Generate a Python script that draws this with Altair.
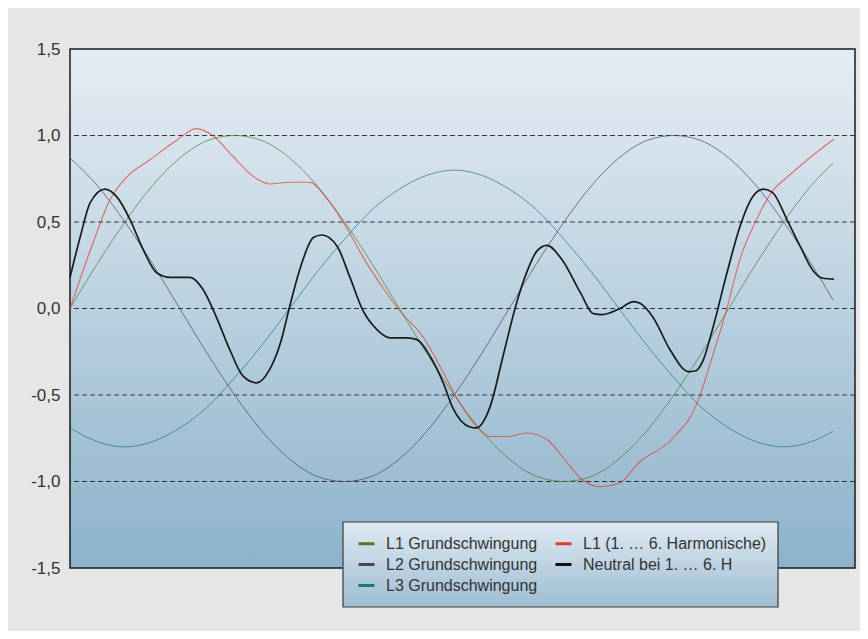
import altair as alt
import pandas as pd

# ---- data (angle in degrees, value in p.u.) ----
theta_fund = [0, 15, 30, 45, 60, 75, 90, 105, 120, 135, 150, 165, 180, 195, 210,
              225, 240, 255, 270, 285, 300, 315, 330, 345, 360, 375, 390, 405, 417]
l1_fund = [0.0, 0.26, 0.50, 0.71, 0.87, 0.97, 1.0, 0.97, 0.87, 0.71, 0.50, 0.26, 0.0, -0.26, -0.50,
           -0.71, -0.87, -0.97, -1.0, -0.97, -0.87, -0.71, -0.50, -0.26, 0.0, 0.26, 0.50, 0.71, 0.84]
l2_fund = [0.87, 0.71, 0.50, 0.26, 0.0, -0.26, -0.50, -0.71, -0.87, -0.97, -1.0, -0.97, -0.87, -0.71, -0.50,
           -0.26, 0.0, 0.26, 0.50, 0.71, 0.87, 0.97, 1.0, 0.97, 0.87, 0.71, 0.50, 0.26, 0.05]
l3_fund = [-0.69, -0.77, -0.80, -0.77, -0.69, -0.57, -0.40, -0.21, 0.0, 0.21, 0.40, 0.57, 0.69, 0.77, 0.80,
           0.77, 0.69, 0.57, 0.40, 0.21, 0.0, -0.21, -0.40, -0.57, -0.69, -0.77, -0.80, -0.77, -0.71]

theta_l1h = [0, 12.6, 21.9, 31, 43.7, 58, 69, 78, 89, 102, 109, 120, 131, 140, 151, 160, 171, 180,
             193, 204, 211, 222, 229.5, 239, 250, 261, 271.6, 280, 289.6, 300, 311, 329.5, 342.6,
             351, 359, 366, 375, 384, 392, 403, 417.5]
l1_harm = [0.0, 0.38, 0.63, 0.76, 0.86, 0.97, 1.04, 1.0, 0.88, 0.75, 0.72, 0.73, 0.73, 0.64, 0.47, 0.30, 0.12, -0.01,
           -0.165, -0.37, -0.51, -0.68, -0.74, -0.74, -0.72, -0.76, -0.89, -0.99, -1.03, -1.01, -0.89, -0.75, -0.55,
           -0.28, 0.0, 0.28, 0.51, 0.68, 0.76, 0.86, 0.98]

theta_n = [0, 5.5, 11, 19, 25.6, 33, 40, 47.5, 54.6, 65.6, 72.7, 80, 87.4, 94.5, 102, 109, 115, 120, 126,
           133, 137.7, 146, 153, 160, 168, 175, 184, 189.6, 197, 204, 209, 218.6, 222, 229.5, 237, 244,
           250, 255, 260.6, 269, 279, 286, 291, 300.5, 308, 311.5, 318.6, 328, 338, 342, 346, 351, 359, 366,
           373, 379, 384, 392, 399, 406, 411.5, 417.5]
neutral = [0.18, 0.41, 0.61, 0.69, 0.645, 0.51, 0.34, 0.205, 0.18, 0.18, 0.11, -0.05, -0.24, -0.39, -0.43,
           -0.355, -0.20, 0.01, 0.24, 0.41, 0.425, 0.36, 0.18, -0.01, -0.125, -0.17, -0.17, -0.18, -0.28,
           -0.43, -0.57, -0.685, -0.69, -0.57, -0.26, 0.03, 0.22, 0.33, 0.365, 0.28, 0.09, -0.03, -0.035,
           0.0, 0.04, 0.03, -0.05, -0.24, -0.365, -0.36, -0.30, -0.125, 0.205, 0.47, 0.645, 0.69, 0.67, 0.51,
           0.36, 0.22, 0.175, 0.17]

grid_values = [-1.0, -0.5, 0.0, 0.5, 1.0]
y_ticks = [-1.5, -1.0, -0.5, 0.0, 0.5, 1.0, 1.5]

S_L1 = "L1 Grundschwingung"
S_L2 = "L2 Grundschwingung"
S_L3 = "L3 Grundschwingung"
S_H = "L1 (1. … 6. Harmonische)"
S_N = "Neutral bei 1. … 6. H"

def frame(name, th, vals):
    return pd.DataFrame({"theta": th, "value": vals, "series": name})

df_fund = pd.concat([frame(S_L3, theta_fund, l3_fund), frame(S_L2, theta_fund, l2_fund),
                     frame(S_L1, theta_fund, l1_fund)], ignore_index=True)
df_harm = frame(S_H, theta_l1h, l1_harm)
df_neu = frame(S_N, theta_n, neutral)

X_MAX = 429
W, H = 785, 519

legend_order = [S_L1, S_L2, S_L3, S_H, S_N]
legend_colors = ["#4c7a2c", "#52405f", "#1f7584", "#e53a2a", "#111111"]

yaxis = alt.Axis(values=y_ticks, grid=False, domain=False, ticks=False,
                 labelExpr="(datum.value < 0 ? '-' : '') + replace(format(abs(datum.value), '.1f'), '.', ',')",
                 labelFontSize=17, labelColor="#333333", labelPadding=10,
                 labelFont="Liberation Sans", title=None)
yscale = alt.Scale(domain=[-1.5, 1.5], nice=False, zero=False)
xscale = alt.Scale(domain=[0, X_MAX], nice=False, zero=False)
cscale = alt.Scale(domain=legend_order, range=legend_colors)
legend = alt.Legend(title=None, orient="none", legendX=287, legendY=485,
                    columns=2, columnPadding=11, rowPadding=3, padding=0,
                    symbolType="stroke", symbolSize=256, symbolStrokeWidth=3,
                    symbolOpacity=1, labelFontSize=16, labelFont="Liberation Sans",
                    labelColor="#333333", labelOffset=10, labelLimit=400)

bg_gradient = alt.LinearGradient(
    gradient="linear", x1=0, x2=0, y1=0, y2=1,
    stops=[alt.GradientStop(color="#e5edf4", offset=0),
           alt.GradientStop(color="#bad1df", offset=0.5),
           alt.GradientStop(color="#8cb2cb", offset=1)])
legend_gradient = alt.LinearGradient(
    gradient="linear", x1=0, x2=0, y1=0, y2=1,
    stops=[alt.GradientStop(color="#dfe9f1", offset=0),
           alt.GradientStop(color="#9dbdd2", offset=1)])

bg = alt.Chart(pd.DataFrame({"theta": [0], "theta2": [X_MAX], "value": [-1.5], "value2": [1.5]})).mark_rect(
    fill=bg_gradient, stroke="#1a1a1a", strokeWidth=1.5
).encode(
    x=alt.X("theta:Q", scale=xscale, axis=None),
    x2="theta2:Q",
    y=alt.Y("value:Q", scale=yscale, axis=yaxis),
    y2="value2:Q",
)

grid = alt.Chart(pd.DataFrame({"value": grid_values})).mark_rule(
    color="#1a1a1a", strokeWidth=1, strokeDash=[5, 3], opacity=0.85
).encode(y=alt.Y("value:Q", scale=yscale, axis=yaxis))

def line_layer(data, width, opacity):
    return alt.Chart(data).mark_line(interpolate="monotone", strokeWidth=width, opacity=opacity).encode(
        x=alt.X("theta:Q", scale=xscale, axis=None),
        y=alt.Y("value:Q", scale=yscale, axis=yaxis),
        color=alt.Color("series:N", scale=cscale, legend=legend),
    )

fund = line_layer(df_fund, 1, 0.7)
harm = line_layer(df_harm, 1.1, 0.7)
neu = line_layer(df_neu, 1.7, 0.95)

legend_box = alt.Chart(pd.DataFrame({"k": [0]})).mark_rect(
    fill=legend_gradient, stroke="#3a3a3a", strokeWidth=1.2, clip=False
).encode(x=alt.value(273), x2=alt.value(708), y=alt.value(473), y2=alt.value(558))

chart = alt.layer(bg, grid, fund, harm, neu, legend_box).properties(
    width=W, height=H,
    padding={"left": 62, "top": 41, "right": 5, "bottom": 63},
    autosize=alt.AutoSizeParams(type="none"),
    background="#e6e6e6",
).configure_view(stroke=None)

chart.save("out.html", embed_options={"renderer": "svg", "actions": False})
